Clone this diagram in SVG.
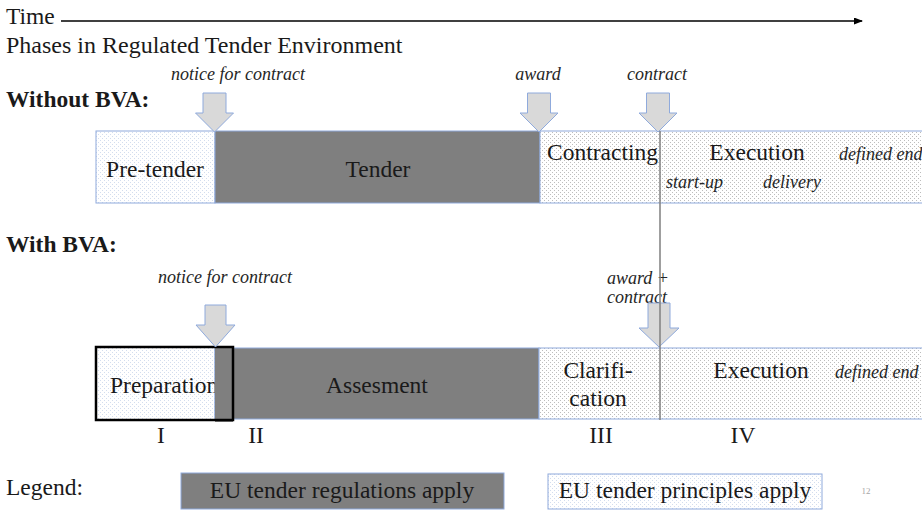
<svg xmlns="http://www.w3.org/2000/svg" width="922" height="512" viewBox="0 0 922 512">
<style>
.t{fill:#1a1a1a;font-size:23.5px;font-family:'Liberation Serif','Times New Roman',serif}
.it{font-style:italic;font-size:18px;fill:#262626;font-family:'Liberation Serif','Times New Roman',serif}
.b{font-weight:bold}
.dark{fill:#7f7f7f;stroke:#8faadc;stroke-width:1}
.dot{fill:url(#dots);stroke:#8faadc;stroke-width:1}
.bdot{fill:url(#bdots);stroke:#8faadc;stroke-width:1}
.arr{fill:#d9d9d9;stroke:#8faadc;stroke-width:1}
</style>
<defs>
<pattern id="dots" width="4" height="4" patternUnits="userSpaceOnUse">
<rect width="4" height="4" fill="#ffffff"/>
<rect x="0" y="0" width="1" height="1" fill="#bdbdbd"/>
<rect x="2" y="2" width="1" height="1" fill="#bdbdbd"/>
</pattern>
<pattern id="bdots" width="4" height="4" patternUnits="userSpaceOnUse">
<rect width="4" height="4" fill="#ffffff"/>
<rect x="0" y="0" width="1" height="1" fill="#d3ddee"/>
<rect x="2" y="2" width="1" height="1" fill="#d3ddee"/>
</pattern>
<marker id="ah" markerWidth="9" markerHeight="7" refX="8" refY="3.5" orient="auto" markerUnits="userSpaceOnUse">
<path d="M0,0 L9,3.5 L0,7 Z" fill="#000"/>
</marker>
</defs>
<rect width="922" height="512" fill="#ffffff"/>

<g id="header">
<text class="t" x="6" y="24">Time</text>
<text class="t" x="6" y="53" style="font-size:24px">Phases in Regulated Tender Environment</text>
<text class="t b" x="6" y="107">Without BVA:</text>
<text class="t b" x="6" y="252">With BVA:</text>
</g>

<g id="row1">
<g id="pretender">
<rect class="bdot" x="96" y="131" width="119" height="72"/>
<text class="t" x="155" y="177" text-anchor="middle">Pre-tender</text>
</g>
<g id="tender">
<rect class="dark" x="215" y="131" width="325" height="72"/>
<text class="t" x="378" y="177" text-anchor="middle">Tender</text>
</g>
<g id="contracting-execution">
<rect class="dot" x="540" y="131" width="390" height="72"/>
<text class="t" x="547" y="160">Contracting</text>
<text class="t" x="757" y="160" text-anchor="middle">Execution</text>
<text class="it" x="839" y="160">defined end</text>
<text class="it" x="666" y="188">start-up</text>
<text class="it" x="763" y="188">delivery</text>
</g>
</g>

<g id="row2">
<g id="preparation">
<rect class="bdot" x="96" y="347" width="119" height="73" stroke="none"/>
<text class="t" x="110" y="393">Preparation</text>
</g>
<g id="assesment">
<rect class="dark" x="215" y="348" width="324" height="71"/>
<rect x="215" y="347" width="18" height="75" fill="#7f7f7f"/>
<text class="t" x="377" y="393" text-anchor="middle">Assesment</text>
</g>
<rect id="preparation-border" x="96" y="347" width="137" height="73" fill="none" stroke="#000" stroke-width="2.5"/>
<g id="clarification-execution">
<rect class="dot" x="539" y="348" width="391" height="71"/>
<text class="t" x="598" y="378" text-anchor="middle">Clarifi-</text>
<text class="t" x="598" y="406" text-anchor="middle">cation</text>
<text class="t" x="761" y="378" text-anchor="middle">Execution</text>
<text class="it" x="835" y="378">defined end</text>
</g>
</g>

<g id="phase-numbers">
<text class="t" x="161" y="443" text-anchor="middle">I</text>
<text class="t" x="256" y="443" text-anchor="middle">II</text>
<text class="t" x="601" y="443" text-anchor="middle">III</text>
<text class="t" x="743" y="443" text-anchor="middle">IV</text>
</g>

<g id="event-labels">
<text class="it" x="238" y="80" text-anchor="middle">notice for contract</text>
<text class="it" x="538" y="80" text-anchor="middle">award</text>
<text class="it" x="657" y="80" text-anchor="middle">contract</text>
<text class="it" x="225" y="283" text-anchor="middle">notice for contract</text>
<text class="it" x="607" y="284">award +</text>
<text class="it" x="607" y="303">contract</text>
</g>

<g id="connectors">
<line x1="61" y1="21" x2="862" y2="21" stroke="#000" stroke-width="1.5" marker-end="url(#ah)"/>
<path class="arr" d="M203,93 H226 V113 H233.5 L214.5,132 L195.5,113 H203 Z"/>
<path class="arr" d="M527.5,93 H550.5 V113 H558 L539,132 L520,113 H527.5 Z"/>
<path class="arr" d="M646.5,93 H669.5 V113 H677 L658,132 L639,113 H646.5 Z"/>
<path class="arr" d="M205,305 H226 V325 H235 L215.5,347 L196,325 H205 Z"/>
<path class="arr" d="M648,303 H670 V328 H679 L659,347 L639,328 H648 Z"/>
<line x1="660" y1="131" x2="660" y2="420" stroke="#7f7f7f" stroke-width="1.5"/>
</g>

<g id="legend">
<text class="t" x="6" y="495">Legend:</text>
<g id="legend-regulations">
<rect class="dark" x="181" y="473" width="323" height="36"/>
<text class="t" x="342" y="498" text-anchor="middle">EU tender regulations apply</text>
</g>
<g id="legend-principles">
<rect class="bdot" x="548" y="474" width="274" height="35"/>
<text class="t" x="685" y="498" text-anchor="middle">EU tender principles apply</text>
</g>
<text class="t" x="866" y="494" style="font-size:9px;fill:#a6a6a6" text-anchor="middle">12</text>
</g>
</svg>
